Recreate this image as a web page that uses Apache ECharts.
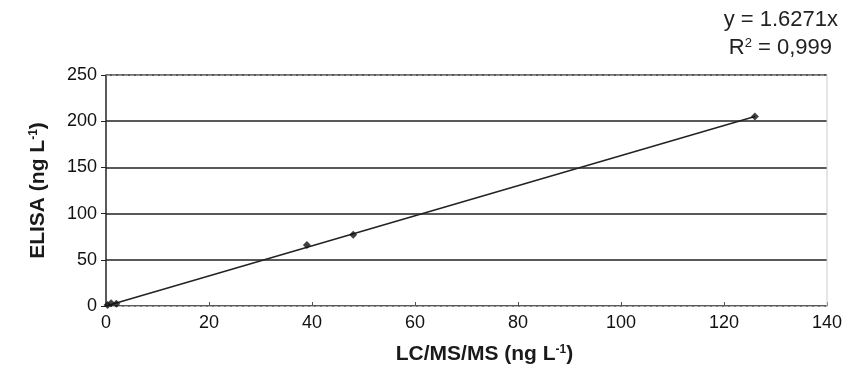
<!DOCTYPE html>
<html><head><meta charset="utf-8">
<script src="https://cdn.jsdelivr.net/npm/echarts@6/dist/echarts.min.js"></script>
<style>html,body{margin:0;padding:0;background:#fff}#c{width:856px;height:371px}</style>
</head><body><div id="c"></div>
<script>
const pointsX = [0.3, 1.0, 2.0, 39.0, 48.0, 126.0];
const pointsY = [1.0, 3.0, 2.5, 66.0, 77.0, 205.0];
const slope = 1.6271;
const trendX = [0, 126];
const xTicks = [0, 20, 40, 60, 80, 100, 120, 140];
const yTicks = [0, 50, 100, 150, 200, 250];

const scatterData = pointsX.map((x, i) => [x, pointsY[i]]);
const trendData = trendX.map(x => [x, slope * x]);
const FF = 'Liberation Sans';
const supB = { fontSize: 12, fontWeight: 'bold', verticalAlign: 'top', color: '#1a1a1a', fontFamily: FF };

const chart = echarts.init(document.getElementById('c'));
chart.setOption({
  animation: false,
  backgroundColor: '#fff',
  grid: { left: 106, right: 29, top: 75, bottom: 65 },
  graphic: [
    { type: 'text', right: 18, top: 9, style: { text: 'y = 1.6271x', font: '22px "Liberation Sans"', fill: '#222' } },
    { type: 'text', right: 24, top: 37, style: {
        text: 'R{s|2} = 0,999', font: '22px "Liberation Sans"', fill: '#222',
        rich: { s: { fontSize: 13, verticalAlign: 'top', fill: '#222', fontFamily: FF, padding: [0, 0, 8, 0] } } } }
  ],
  xAxis: {
    type: 'value', min: xTicks[0], max: xTicks[xTicks.length - 1], interval: 20,
    name: 'LC/MS/MS (ng L{s|-1})', nameLocation: 'middle', nameGap: 38,
    nameTextStyle: { fontFamily: FF, fontSize: 21, fontWeight: 'bold', color: '#1a1a1a', rich: { s: supB }, padding: [0, 0, 0, 36] },
    axisLine: { lineStyle: { color: '#bbb', width: 1, type: 'dashed' } },
    axisTick: { show: true, length: 4, inside: true, lineStyle: { color: '#555' } },
    axisLabel: { fontFamily: FF, fontSize: 18, color: '#111', margin: 8 },
    splitLine: { show: false }
  },
  yAxis: {
    type: 'value', min: yTicks[0], max: yTicks[yTicks.length - 1], interval: 50,
    name: 'ELISA (ng L{s|-1})', nameLocation: 'middle', nameGap: 57, nameRotate: 90,
    nameTextStyle: { fontFamily: FF, fontSize: 21, fontWeight: 'bold', color: '#1a1a1a', rich: { s: supB } },
    axisLine: { show: true, lineStyle: { color: '#222', width: 1.5 } },
    axisTick: { show: true, length: 5, lineStyle: { color: '#222' } },
    axisLabel: { fontFamily: FF, fontSize: 18, color: '#111', margin: 9 },
    splitLine: { show: true, lineStyle: { color: '#222', width: 1.5 } }
  },
  series: [
    {
      type: 'line', data: trendData, showSymbol: false, symbol: 'none',
      lineStyle: { color: '#222', width: 1.5 }, z: 3
    },
    {
      type: 'scatter', data: scatterData, symbol: 'diamond', symbolSize: 8,
      itemStyle: { color: '#111' }, z: 4
    },
    {
      type: 'line', data: [[140, 0], [140, 250]], symbol: 'none',
      lineStyle: { color: '#ccc', width: 1 }, z: 1, silent: true
    },
    {
      type: 'line', data: [[0, 250], [140, 250]], symbol: 'none',
      lineStyle: { color: '#ccc', width: 1, type: 'dashed' }, z: 2, silent: true
    }
  ]
});
</script></body></html>
